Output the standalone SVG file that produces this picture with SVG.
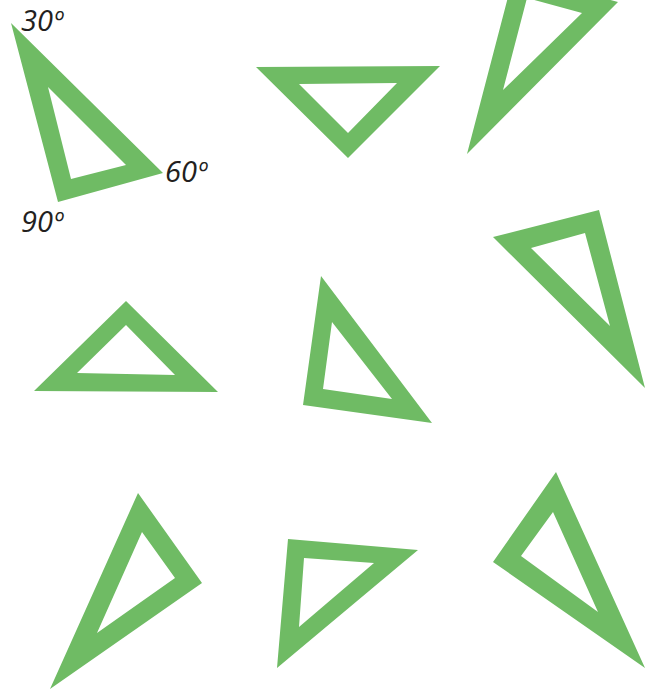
<svg xmlns="http://www.w3.org/2000/svg" width="645" height="690" viewBox="0 0 645 690">
<style>
.sq{fill:#6fbb64;fill-rule:evenodd;stroke:none}
.lb{font-family:"Open Sans","Liberation Sans",sans-serif;font-style:italic;font-size:29px;fill:#231f20}
</style>
<rect width="645" height="690" fill="#ffffff"/>
<g id="t1">
<path class="sq" d="M11,23 L163,173 L58,202 Z M48,87 L71,179 L126,165 Z"/>
<text class="lb" x="21" y="31">30º</text>
<text class="lb" x="165" y="182">60º</text>
<text class="lb" x="21" y="232">90º</text>
</g>
<g id="t2"><path class="sq" d="M256,67 L440,66 L348,158 Z M299,84 L348,133 L397,83 Z"/></g>
<g id="t3"><path class="sq" d="M514,-26 L618,2 L467,154 Z M527,-2 L503,90 L582,13 Z"/></g>
<g id="t4"><path class="sq" d="M126,301 L218,392 L34,391 Z M126,325 L77,373 L175,375 Z"/></g>
<g id="t5"><path class="sq" d="M321,276 L432,423 L303,405 Z M332,322 L323,389 L392,399 Z"/></g>
<g id="t6"><path class="sq" d="M599,210 L645,388 L493,237 Z M585,233 L531,248 L610,326 Z"/></g>
<g id="t7"><path class="sq" d="M138,493 L202,583 L50,689 Z M142,532 L97,633 L175,578 Z"/></g>
<g id="t8"><path class="sq" d="M288,539 L418,550 L277,668 Z M304,558 L299,627 L374,563 Z"/></g>
<g id="t9"><path class="sq" d="M556,472 L645,668 L493,562 Z M553,512 L521,556 L598,612 Z"/></g>
<g id="connectors"/>
</svg>
